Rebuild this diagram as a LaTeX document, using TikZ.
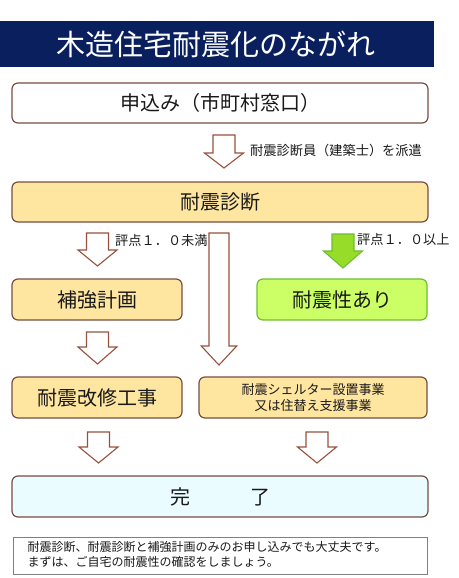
\documentclass[tikz,border=0pt]{standalone}
\usepackage{fontspec}
\setmainfont{Noto Sans CJK JP}
\definecolor{navy}{RGB}{10,32,94}
\definecolor{brd}{RGB}{120,78,66}
\definecolor{arr}{RGB}{150,82,62}
\definecolor{orangef}{RGB}{255,230,160}
\definecolor{greenf}{RGB}{204,255,102}
\definecolor{greenb}{RGB}{110,190,50}
\definecolor{greenarr}{RGB}{150,220,40}
\definecolor{cyanf}{RGB}{234,252,255}
\definecolor{txt}{RGB}{25,25,25}
\tikzset{
  box/.style={draw=brd, line width=1.2pt, rounded corners=6pt, inner sep=0pt, text=txt},
  bigtxt/.style={font=\fontsize{20}{24}\selectfont},
  smalltxt/.style={font=\fontsize{13.2}{15}\selectfont, text=txt, inner sep=0pt},
  blockarrow/.style={line width=1.1pt, line join=miter},
  pics/downarr/.style args={#1/#2/#3/#4}{code={
    % #1 top to shaft end, #2 total length, #3 fill, #4 draw
    \draw[blockarrow, fill=#3, draw=#4]
      (-11,0) -- (11,0) -- (11,#1) -- (19.5,#1) -- (0,#2) -- (-19.5,#1) -- (-11,#1) -- cycle;
  }}
}
\begin{document}
\begin{tikzpicture}[x=1pt,y=-1pt]
\useasboundingbox (0,0) rectangle (458,578);
\fill[white] (0,0) rectangle (458,578);
% title
\fill[navy] (0,21) rectangle (434,67);
\node[text=white, font=\fontsize{29}{32}\selectfont, inner sep=0pt] (title) at (216,44) {木造住宅耐震化のながれ};
% boxes
\node[box, bigtxt, fill=white, minimum width=416pt, minimum height=40pt] (apply) at (220,103) {申込み（市町村窓口）};
\node[box, bigtxt, fill=orangef, minimum width=416pt, minimum height=40pt] (diag) at (220,202) {耐震診断};
\node[box, bigtxt, fill=orangef, minimum width=170pt, minimum height=41pt] (plan) at (97,299.5) {補強計画};
\node[box, bigtxt, fill=greenf, draw=greenb, minimum width=170pt, minimum height=41pt] (safe) at (342,299.5) {耐震性あり};
\node[box, bigtxt, fill=orangef, minimum width=170pt, minimum height=41pt] (work) at (97,397.5) {耐震改修工事};
\node[box, fill=orangef, minimum width=228pt, minimum height=41pt, align=center, font=\fontsize{13}{16}\selectfont] (shelter) at (313,397.5) {耐震シェルター設置事業\\又は住替え支援事業};
\node[box, bigtxt, fill=cyanf, minimum width=416pt, minimum height=41pt] (done) at (220,496.5) {完　　　了};
\node[draw=gray, line width=0.8pt, minimum width=414pt, minimum height=37pt, inner sep=0pt] (note) at (220,555.5) {};
\node[smalltxt, font=\fontsize{12}{15}\selectfont, anchor=north west, align=left] (notetxt) at (27.5,541) {耐震診断、耐震診断と補強計画のみのお申し込みでも大丈夫です。\\まずは、ご自宅の耐震性の確認をしましょう。};
% arrows
\pic at (224,135) {downarr={18/33/white/arr}};
\pic at (97.5,233) {downarr={17/33/white/arr}};
\pic[xscale=0.91] at (219,233) {downarr={113/132/white/arr}};
\pic at (343,234) {downarr={17/34/greenarr/greenb}};
\pic at (97.5,332) {downarr={15/32/white/arr}};
\pic at (98.5,432) {downarr={15/31/white/arr}};
\pic at (317,432) {downarr={15/31/white/arr}};
% labels
\node[smalltxt, anchor=west] (lab1) at (250,150) {耐震診断員（建築士）を派遣};
\node[smalltxt, anchor=west] (lab2) at (115,240) {評点１．０未満};
\node[smalltxt, anchor=west] (lab3) at (357,240) {評点１．０以上};
\end{tikzpicture}
\end{document}
